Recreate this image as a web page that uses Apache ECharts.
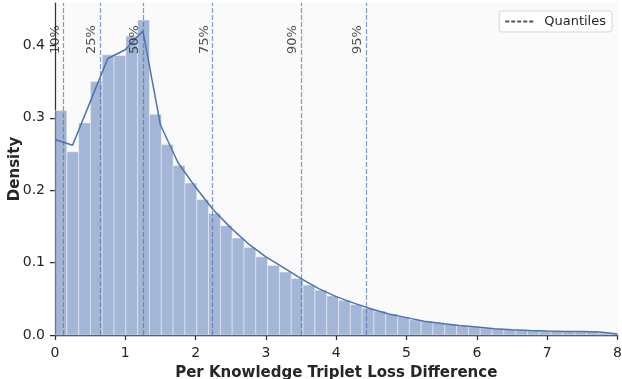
<!DOCTYPE html>
<html><head><meta charset="utf-8">
<script src="https://cdn.jsdelivr.net/npm/echarts@6/dist/echarts.min.js"></script>
<style>html,body{margin:0;padding:0;background:#fff}#c{width:622px;height:379px}</style>
</head><body><div id="c"></div>
<script>
// ---- data ----
const binWidth = 0.168;
const density = [0.310, 0.253, 0.293, 0.350, 0.387, 0.386, 0.413, 0.435,
  0.305, 0.263, 0.234, 0.210, 0.187, 0.168, 0.151, 0.134,
  0.121, 0.108, 0.096, 0.087, 0.078, 0.069, 0.062, 0.054,
  0.048, 0.042, 0.037, 0.033, 0.029, 0.025, 0.021, 0.019,
  0.017, 0.015, 0.0125, 0.011, 0.0095, 0.0085, 0.0075, 0.0065,
  0.006, 0.0055, 0.005, 0.0048, 0.005, 0.0048, 0.003, 0.002];
const kdeX = [0, 0.25, 0.5, 0.75, 1.0, 1.25, 1.5, 1.75, 2.0, 2.25, 2.5, 2.75, 3.0, 3.25, 3.5,
  3.75, 4.0, 4.25, 4.5, 4.75, 5.0, 5.25, 5.5, 5.75, 6.0, 6.25, 6.5, 6.75, 7.0, 7.25, 7.5, 7.75, 8.0];
const kdeY = [0.270, 0.262, 0.322, 0.382, 0.394, 0.420, 0.290, 0.238, 0.204, 0.173, 0.148, 0.126, 0.108, 0.093, 0.078,
  0.064, 0.053, 0.044, 0.036, 0.029, 0.024, 0.019, 0.016, 0.013, 0.011, 0.0088, 0.0074, 0.0063, 0.0055, 0.005, 0.0048, 0.004, 0.0015];
const quantileLabels = ['10%', '25%', '50%', '75%', '90%', '95%'];
const quantileValues = [0.12, 0.64, 1.25, 2.24, 3.50, 4.42];
const xLabel = 'Per Knowledge Triplet Loss Difference';
const yLabel = 'Density';
const legendName = 'Quantiles';

// ---- layout / style ----
const X_MAX = 8, Y_MAX = 0.4586, LABEL_Y = 0.388;
const FONT = 'DejaVu Sans';
const chart = echarts.init(document.getElementById('c'), null, {renderer: 'canvas'});
const axisCommon = {
  axisLine: {show: true, lineStyle: {color: '#333', width: 1.25}},
  axisTick: {show: true, length: 5, lineStyle: {color: '#333', width: 1.25}},
  splitLine: {show: false},
  nameLocation: 'middle',
  nameMoveOverlap: false,
  nameTextStyle: {fontFamily: FONT, fontWeight: 'bold', fontSize: 15, color: '#262626'}
};
chart.setOption({
  animation: false,
  textStyle: {fontFamily: FONT},
  grid: {left: 55, right: 4.5, top: 3, bottom: 44, show: true, backgroundColor: '#fafafa', borderWidth: 0,
    containLabel: false, outerBoundsMode: 'none'},
  legend: {
    data: [{name: legendName, itemStyle: {opacity: 0}}], right: 10, top: 11, padding: [4, 6, 4, 5],
    borderColor: '#d6d6d6', borderWidth: 1, borderRadius: 3, backgroundColor: 'rgba(255,255,255,0.85)',
    itemWidth: 29, itemHeight: 12,
    textStyle: {fontFamily: FONT, fontSize: 13, color: '#262626', padding: [0, 0, 0, 5]}
  },
  xAxis: Object.assign({}, axisCommon, {
    type: 'value', min: 0, max: X_MAX, interval: 1,
    name: xLabel, nameGap: 31,
    axisLabel: {fontFamily: FONT, fontSize: 14, color: '#262626', margin: 11}
  }),
  yAxis: Object.assign({}, axisCommon, {
    type: 'value', min: 0, max: Y_MAX, interval: 0.1,
    name: yLabel, nameGap: 32,
    axisLabel: {fontFamily: FONT, fontSize: 14, color: '#262626', margin: 10, showMaxLabel: false,
      formatter: v => v.toFixed(1)}
  }),
  series: [
    {
      type: 'custom', z: 1, silent: true,
      data: density.map((d, i) => [i * binWidth, (i + 1) * binWidth, d]),
      encode: {x: [0, 1], y: 2},
      renderItem: (params, api) => {
        const x0 = api.value(0), x1 = Math.min(api.value(1), X_MAX), h = api.value(2);
        if (x0 >= X_MAX) return null;
        const p0 = api.coord([x0, h]), p1 = api.coord([x1, 0]);
        return {type: 'rect', shape: {x: p0[0], y: p0[1], width: p1[0] - p0[0], height: p1[1] - p0[1]},
          style: {fill: 'rgba(76,114,176,0.5)', stroke: 'rgba(255,255,255,0.55)', lineWidth: 0.8}};
      }
    },
    {
      type: 'line', z: 3, silent: true, symbol: 'none',
      data: kdeX.map((x, i) => [x, kdeY[i]]),
      lineStyle: {color: '#4c72b0', width: 1.5}
    },
    {
      type: 'line', name: legendName, z: 4, silent: true, symbol: 'none', data: [],
      color: '#555',
      lineStyle: {color: '#555', width: 1.2, type: [4, 2]},
      markLine: {
        silent: true, symbol: ['none', 'none'], label: {show: false},
        lineStyle: {color: 'rgba(76,114,176,0.7)', width: 1.2, type: [5, 2]},
        emphasis: {disabled: true},
        data: quantileValues.map(q => ({xAxis: q}))
      }
    },
    {
      type: 'scatter', z: 5, silent: true, symbolSize: 0,
      data: quantileValues.map((q, i) => ({value: [q, LABEL_Y], name: quantileLabels[i]})),
      label: {
        show: true, formatter: p => p.name, rotate: 90, position: [-1.5, 0],
        align: 'left', verticalAlign: 'bottom',
        fontFamily: FONT, fontSize: 13, color: '#262626'
      }
    }
  ]
});
</script></body></html>
